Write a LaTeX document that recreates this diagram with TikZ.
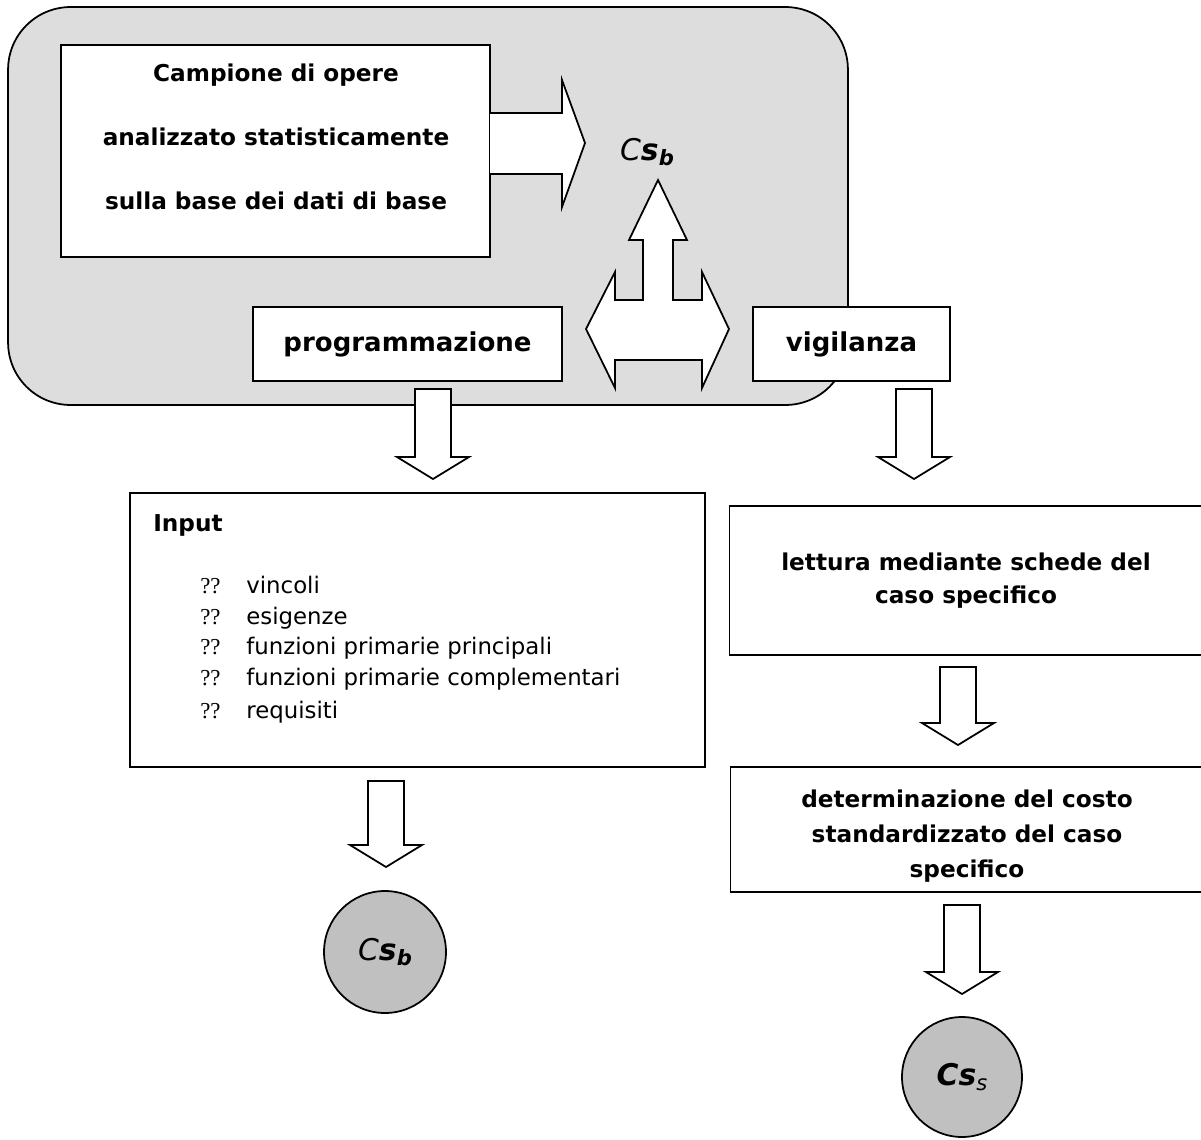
\documentclass[tikz,border=0pt]{standalone}
\usepackage{fontspec}
\setmainfont{DejaVu Sans}
\newfontfamily\qmarkfont{Liberation Serif}
\usetikzlibrary{positioning}
\definecolor{panelgray}{RGB}{221,221,221}
\definecolor{circlegray}{RGB}{192,192,192}
\newcommand{\csbase}{{\itshape C}{\bfseries\itshape s\raisebox{-0.3ex}{\fontsize{12}{12}\selectfont b}}}
\newcommand{\csspec}{{\bfseries\itshape Cs}\raisebox{-0.3ex}{\fontsize{12}{12}\selectfont\itshape s}}
\tikzset{
  x=0.02cm, y=-0.02cm,
  panel/.style={draw, fill=panelgray, line width=1pt, rounded corners=1.25cm},
  box/.style={draw, fill=white, line width=1pt, inner sep=0pt},
  blockarrow/.style={draw, fill=white, line width=1pt, line join=miter},
  result/.style={circle, draw, fill=circlegray, line width=1pt, inner sep=0pt},
  boldtext/.style={font=\fontsize{13.2}{18.5}\selectfont\bfseries, align=center},
  headtext/.style={font=\fontsize{14.8}{18}\selectfont\bfseries},
  itemtext/.style={font=\fontsize{13}{16}\selectfont, inner sep=0pt},
  qmark/.style={font=\fontsize{13}{16}\qmarkfont, inner sep=0pt},
  pics/downblock/.style={code={
    \path[blockarrow] (-18,0) -- (-18,#1) -- (-36,#1) -- (0,#1+22) -- (36,#1) -- (18,#1) -- (18,0) -- cycle;
  }}
}

\begin{document}
\begin{tikzpicture}
  \useasboundingbox (0,0) rectangle (1201,1140);

  % grey panel with the statistical sample
  \node[panel, minimum width=16.8cm, minimum height=7.96cm] (panel) at (428,206) {};

  \node[box, minimum width=8.58cm, minimum height=4.24cm] (campione) at (275.5,151) {};
  \node[boldtext, font=\fontsize{13.2}{36.6}\selectfont\bfseries] (campionetext) at (276,137)
    {Campione di opere\\analizzato statisticamente\\sulla base dei dati di base};

  \path[blockarrow] (490,113) -- (562,113) -- (562,80) -- (585,143) -- (562,207) -- (562,174) -- (490,174);
  \node[font=\fontsize{17}{20}\selectfont] (csbtop) at (647,152) {\csbase};

  \node[box, headtext, minimum width=6.18cm, minimum height=1.48cm] (prog) at (407.5,344) {programmazione};
  \node[box, headtext, minimum width=3.94cm, minimum height=1.48cm] (vig) at (851.5,344) {vigilanza};

  % three-way arrow
  \path[blockarrow] (586,329) -- (615,272) -- (615,300) -- (643,300) -- (643,240) -- (629,240)
    -- (658,180) -- (687,240) -- (673,240) -- (673,300) -- (702,300) -- (702,272) -- (729,329)
    -- (702,388) -- (702,360) -- (615,360) -- (615,388) -- cycle;

  \pic at (433,389) {downblock=68};
  \pic at (914,389) {downblock=68};

  % left column
  \node[box, minimum width=11.5cm, minimum height=5.48cm] (input) at (417.5,630) {};
  \node[headtext, font=\fontsize{13.2}{16}\selectfont\bfseries, inner sep=0pt, anchor=base west] (inputtitle) at (153,531) {Input};
  \foreach \txt/\y [count=\i] in {vincoli/593, esigenze/624, funzioni primarie principali/654,
      funzioni primarie complementari/685, requisiti/718} {
    \node[qmark, anchor=base west] (mark\i) at (200,\y) {??};
    \node[itemtext, anchor=base west] (item\i) at (246,\y) {\txt};
  }

  \pic at (386,781) {downblock=64};
  \node[result, minimum size=2.44cm] (csb) at (385,952) {\fontsize{17}{20}\selectfont\csbase};

  % right column
  \node[box, boldtext, minimum width=9.46cm, minimum height=2.98cm] (lettura) at (966,580.5)
    {lettura mediante schede del\\caso specifico};
  \pic at (958,667) {downblock=56};
  \node[box, minimum width=9.44cm, minimum height=2.5cm] (costo) at (966.5,829.5) {};
  \node[boldtext, font=\fontsize{13.2}{19.8}\selectfont\bfseries] (costotext) at (967,836)
    {determinazione del costo\\standardizzato del caso\\specifico};
  \pic at (962,905) {downblock=67};
  \node[result, minimum size=2.4cm] (css) at (962,1077) {\fontsize{17}{20}\selectfont\csspec};
\end{tikzpicture}
\end{document}
